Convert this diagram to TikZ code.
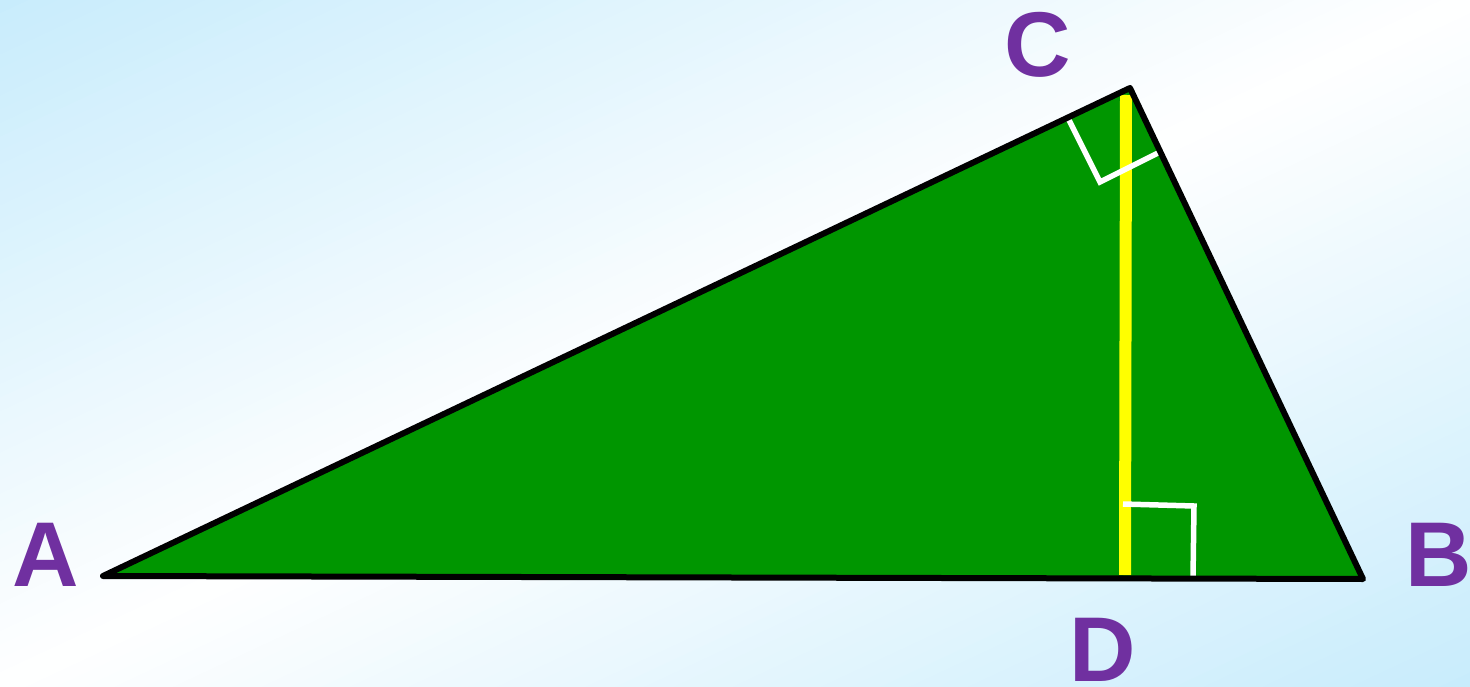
\documentclass[tikz,border=0pt]{standalone}
\usepackage{fontspec}
\setmainfont{Liberation Sans}
\definecolor{bgblue}{HTML}{C8ECFC}
\definecolor{lblpurple}{HTML}{7030A0}
\definecolor{trigreen}{HTML}{009600}
\definecolor{altyellow}{HTML}{FFFF00}
\tikzset{
  lbl/.style={text=lblpurple, inner sep=0pt, font=\fontsize{92}{92}\selectfont\bfseries},
  side/.style={draw=black, line width=6pt, line join=round, line cap=round},
  altitude/.style={draw=altyellow, line width=12pt},
  rightmark/.style={draw=white, line width=5.5pt}
}
\begin{document}
\begin{tikzpicture}[x=1pt,y=-1pt]
  \useasboundingbox (0,0) rectangle (1470,687);
  \begin{scope}
    \clip (0,0) rectangle (1470,687);
    \begin{scope}[rotate around={25:(735,343)}]
      \foreach \i in {0,...,99}{
        \pgfmathsetmacro{\tz}{-622+\i*12.44}
        \pgfmathsetmacro{\tw}{\tz+13.5}
        \pgfmathsetmacro{\pc}{abs(\tz+6.22)/622*100}
        \colorlet{stripcol}{bgblue!\pc!white}
        \fill[stripcol] (-265,343+\tz) rectangle (1735,343+\tw);
      }
    \end{scope}
  \end{scope}
  % vertices
  \coordinate (A) at (103,576);
  \coordinate (B) at (1363,579);
  \coordinate (C) at (1130,88);
  \coordinate (Ht) at (1126,95);
  \coordinate (D) at (1125,575);
  % triangle
  \fill[trigreen] (A) -- (B) -- (C) -- cycle;
  % altitude
  \draw[altitude] (Ht) -- (D);
  % right angle marks
  \coordinate (c1) at (1068,118);
  \coordinate (c2) at (1100,182);
  \coordinate (c3) at (1162,151);
  \draw[rightmark] (c1) -- (c2) -- (c3);
  \coordinate (d1) at (1123,504);
  \coordinate (d2) at (1194,506);
  \coordinate (d3) at (1193,578);
  \draw[rightmark] (d1) -- (d2) -- (d3);
  \draw[side] (A) -- (B) -- (C) -- cycle;
  % labels
  \node[lbl] (la) at (46,555) {A};
  \node[lbl] (lb) at (1439,555) {B};
  \node[lbl] (lc) at (1038,45) {C};
  \node[lbl] (ld) at (1103,650) {D};
\end{tikzpicture}
\end{document}
